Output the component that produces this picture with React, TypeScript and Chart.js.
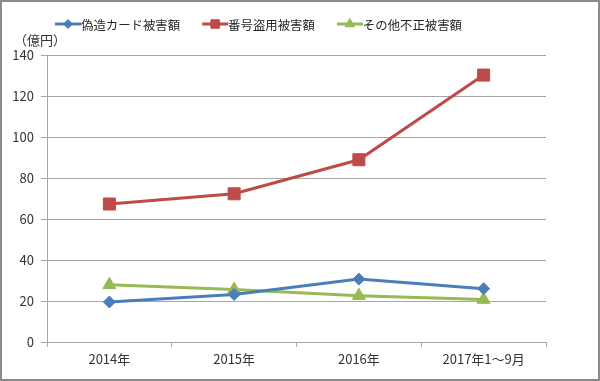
import React, { useEffect, useRef } from "react";
import { Chart, registerables } from "chart.js";
import { drawPoint } from "chart.js/helpers";

Chart.register(...registerables);

const categories = ["2014年", "2015年", "2016年", "2017年1～9月"];
const forgedCard = [19.5, 23.2, 30.7, 26.0];
const numberTheft = [67.3, 72.3, 88.9, 130.2];
const otherFraud = [27.9, 25.6, 22.6, 20.7];
const seriesNames = ["偽造カード被害額", "番号盗用被害額", "その他不正被害額"];
const yUnit = "（億円）";

const FONT = '"Noto Sans CJK JP", "Noto Sans", sans-serif';
const TEXT = "#333333";
const GRID = "#a6a6a6";

const customPlugin = {
  id: "customLegendTitle",
  afterDraw(chart: any) {
    const ctx = chart.ctx as CanvasRenderingContext2D;
    ctx.save();
    ctx.strokeStyle = "#8a8a8a";
    ctx.lineWidth = 2;
    ctx.strokeRect(1, 1, chart.width - 2, chart.height - 2);
    ctx.font = `13px ${FONT}`;
    ctx.fillStyle = TEXT;
    ctx.textBaseline = "middle";
    ctx.textAlign = "left";
    ctx.fillText(yUnit, 14, 40);
    let x = 55;
    const y = 24;
    chart.data.datasets.forEach((ds: any) => {
      ctx.strokeStyle = ds.borderColor;
      ctx.fillStyle = ds.backgroundColor;
      ctx.lineWidth = 3;
      ctx.beginPath();
      ctx.moveTo(x, y);
      ctx.lineTo(x + 26, y);
      ctx.stroke();
      ctx.lineWidth = 1;
      drawPoint(ctx, { pointStyle: ds.pointStyle, rotation: 0, radius: ds.legendRadius, borderWidth: 1 } as any, x + 13, y);
      ctx.fillStyle = "#262626";
      ctx.font = `12.4px ${FONT}`;
      const tx = x + 26;
      ctx.fillText(ds.label, tx, y + 1);
      x = tx + ctx.measureText(ds.label).width + 22;
    });
    ctx.restore();
  },
};

export default function App() {
  const ref = useRef<HTMLCanvasElement>(null);
  useEffect(() => {
    if (!ref.current) return;
    const chart = new Chart(ref.current, {
      type: "line",
      data: {
        labels: categories,
        datasets: [
          {
            label: seriesNames[0],
            data: forgedCard,
            borderColor: "#4a7ebb",
            backgroundColor: "#4a7ebb",
            borderWidth: 3,
            pointStyle: "rectRot",
            pointRadius: 6,
            pointBorderWidth: 1,
            legendRadius: 4.5,
          } as any,
          {
            label: seriesNames[1],
            data: numberTheft,
            borderColor: "#be4b48",
            backgroundColor: "#be4b48",
            borderWidth: 3,
            pointStyle: "rect",
            pointRadius: 8.5,
            pointBorderWidth: 1,
            legendRadius: 6,
          } as any,
          {
            label: seriesNames[2],
            data: otherFraud,
            borderColor: "#98b954",
            backgroundColor: "#98b954",
            borderWidth: 3,
            pointStyle: "triangle",
            pointRadius: 7.5,
            pointBorderWidth: 1,
            legendRadius: 5.5,
          } as any,
        ],
      },
      options: {
        animation: false,
        responsive: false,
        devicePixelRatio: 1,
        layout: { padding: { top: 55, right: 54, left: 0, bottom: 0 } },
        plugins: { legend: { display: false }, tooltip: { enabled: false } },
        elements: { line: { tension: 0 } },
        scales: {
          x: {
            type: "category",
            offset: true,
            grid: { drawOnChartArea: false, drawTicks: true, tickLength: 5, color: GRID, offset: true },
            border: { color: GRID, width: 1 },
            ticks: { font: { family: FONT, size: 13 }, color: TEXT, padding: 4, maxRotation: 0 },
            afterFit: (s: any) => {
              s.height = 39;
            },
          },
          y: {
            min: 0,
            max: 140,
            grid: { color: GRID, tickLength: 6 },
            border: { color: GRID, width: 1 },
            ticks: { stepSize: 20, font: { family: FONT, size: 13 }, color: TEXT, padding: 7 },
            afterFit: (s: any) => {
              s.width = 47;
            },
          },
        },
      } as any,
      plugins: [customPlugin],
    });
    return () => chart.destroy();
  }, []);
  return (
    <div style={{ position: "fixed", left: 0, top: 0, width: 600, height: 381, background: "#fff" }}>
      <canvas ref={ref} width={600} height={381} style={{ width: 600, height: 381, display: "block" }} />
    </div>
  );
}
